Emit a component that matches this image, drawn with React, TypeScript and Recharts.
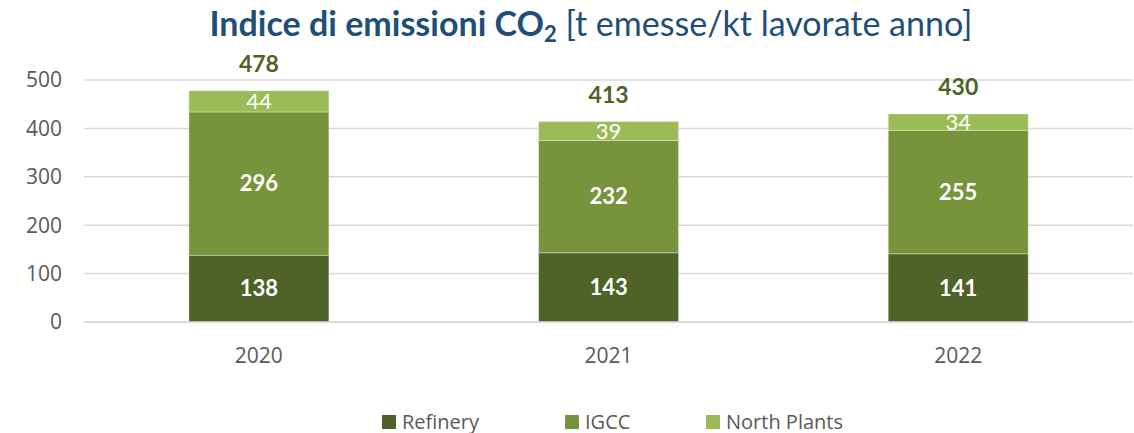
import React from "react";
import { Bar, BarChart, CartesianGrid, LabelList, Legend, XAxis, YAxis } from "recharts";

const years = ["2020", "2021", "2022"];
const refinery = [138, 143, 141];
const igcc = [296, 232, 255];
const northPlants = [44, 39, 34];
const totals = [478, 413, 430];
const yTicks = [0, 100, 200, 300, 400, 500];

const LABEL_FONT = "Lato, Carlito, sans-serif";
const AXIS_FONT = "'Open Sans', 'Noto Sans', sans-serif";
const TICK_COLOR = "#595959";

const series = [
  { key: "refinery", name: "Refinery", color: "#4F6228", bold: true },
  { key: "igcc", name: "IGCC", color: "#77933C", bold: true },
  { key: "northPlants", name: "North Plants", color: "#9BBB59", bold: false },
];

const data = years.map((year, i) => ({
  year,
  refinery: refinery[i],
  igcc: igcc[i],
  northPlants: northPlants[i],
  total: totals[i],
}));

const legendWidths = [183, 141, 220];

function LegendContent() {
  return (
    <div
      style={{
        height: 40,
        display: "flex",
        alignItems: "flex-start",
        paddingLeft: 382,
        paddingTop: 15,
        boxSizing: "border-box",
        fontFamily: AXIS_FONT,
        fontSize: 20,
        lineHeight: "28px",
        color: TICK_COLOR,
      }}
    >
      {series.map((s, i) => (
        <div key={s.key} style={{ width: legendWidths[i], display: "flex", alignItems: "center", height: 28 }}>
          <span style={{ width: 14, height: 14, background: s.color, marginRight: 6, display: "inline-block" }} />
          <span>{s.name}</span>
        </div>
      ))}
    </div>
  );
}

// totale sopra la colonna, agganciato all'ultima serie dello stack
function TotalLabel(props: any) {
  const { x, y, width, index } = props;
  return (
    <text
      x={x + width / 2}
      y={y - 19}
      textAnchor="middle"
      fill="#4F6228"
      fontFamily={LABEL_FONT}
      fontSize={23}
      fontWeight="bold"
    >
      {totals[index]}
    </text>
  );
}

export default function App() {
  return (
    <div style={{ position: "relative", width: 1134, height: 433, background: "#fff" }}>
      <style>{`body { margin: 0; }`}</style>
      <div
        style={{
          position: "absolute",
          top: 3,
          left: 0,
          width: 1134,
          paddingLeft: 48,
          boxSizing: "border-box",
          textAlign: "center",
          fontFamily: LABEL_FONT,
          fontSize: 34,
          lineHeight: "40px",
          color: "#1F4E79",
          whiteSpace: "nowrap",
          zIndex: 1,
        }}
      >
        <span style={{ fontWeight: "bold" }}>
          Indice di emissioni CO
          <span style={{ fontSize: 22, verticalAlign: -6, lineHeight: 0 }}>2</span>
        </span>{" "}
        <span>[t emesse/kt lavorate anno]</span>
      </div>
      <BarChart
        width={1134}
        height={433}
        data={data}
        margin={{ top: 80, right: 1, left: 0, bottom: 0 }}
        barCategoryGap="30%"
        style={{ fontFamily: AXIS_FONT }}
      >
        <CartesianGrid vertical={false} stroke="#D9D9D9" strokeWidth={1.5} />
        <XAxis
          dataKey="year"
          height={71}
          axisLine={{ stroke: "#D9D9D9", strokeWidth: 1.5 }}
          tickLine={false}
          tickSize={0}
          tickMargin={26}
          tick={{ fill: TICK_COLOR, fontSize: 21, fontFamily: AXIS_FONT }}
        />
        <YAxis
          width={84}
          domain={[0, 500]}
          ticks={yTicks}
          axisLine={false}
          tickLine={false}
          tickSize={0}
          tickMargin={22}
          tick={{ fill: TICK_COLOR, fontSize: 21, fontFamily: AXIS_FONT }}
        />
        <Legend verticalAlign="bottom" content={LegendContent} wrapperStyle={{ left: 0, width: 1134 }} />
        {series.map((s, i) => (
          <Bar
            key={s.key}
            dataKey={s.key}
            name={s.name}
            stackId="co2"
            fill={s.color}
            stroke="rgba(255,255,255,0.35)"
            strokeWidth={1}
            isAnimationActive={false}
          >
            <LabelList
              dataKey={s.key}
              position="center"
              fill="#fff"
              fontSize={22}
              fontWeight={s.bold ? "bold" : "normal"}
              fontFamily={LABEL_FONT}
            />
            {i === series.length - 1 && <LabelList dataKey="total" content={TotalLabel} />}
          </Bar>
        ))}
      </BarChart>
    </div>
  );
}
